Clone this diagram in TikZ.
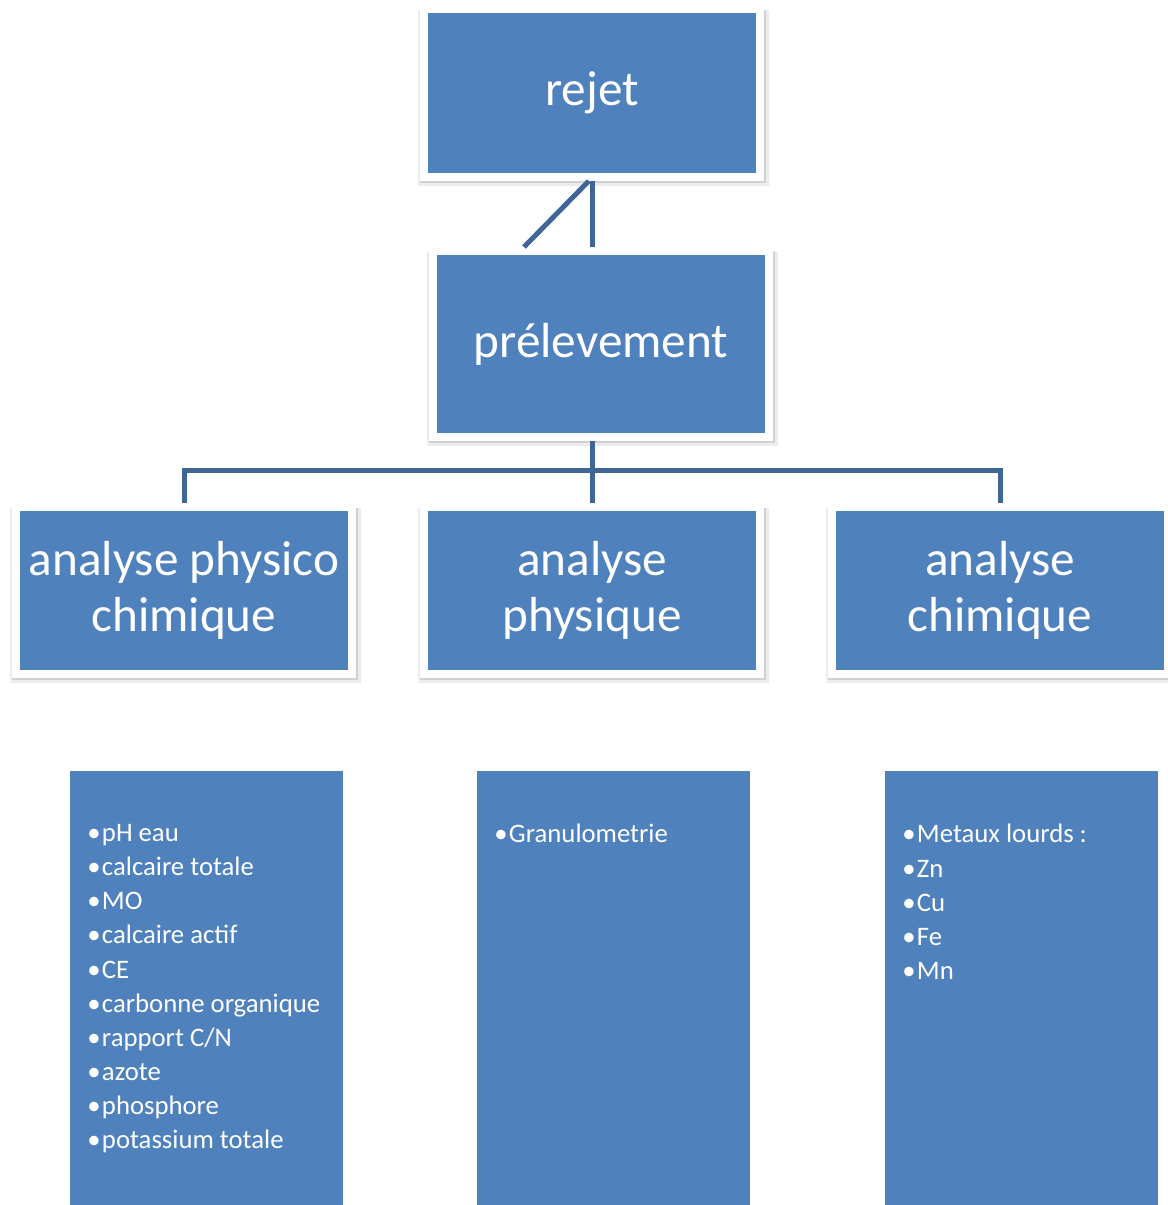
\documentclass[tikz,border=0pt]{standalone}
\usepackage{fontspec}
\setmainfont{Carlito}
\usetikzlibrary{shadows}
\definecolor{bleu}{HTML}{4F81BD}
\definecolor{trait}{HTML}{3F6696}
\newcommand{\puce}{•\hspace{1pt}}
\tikzset{bloc/.style={draw=white, line width=0.2cm, fill=bleu, text=white, align=center,
    minimum width=8.4cm, inner sep=0pt, font=\fontsize{35}{39.5}\selectfont,
    drop shadow={shadow xshift=0.03cm, shadow yshift=-0.12cm, shadow scale=1.045,
      opacity=0.15, fill=black!50},
    drop shadow={shadow xshift=0.02cm, shadow yshift=-0.08cm, shadow scale=1.03,
      opacity=0.25, fill=black!50}}}
\tikzset{fond/.style={fill=bleu, minimum width=6.825cm, minimum height=11cm, inner sep=0pt, anchor=north west}}
\tikzset{liste/.style={text=white, align=left, anchor=north west, inner sep=0pt,
    font=\fontsize{19}{24.3}\selectfont}}
\tikzset{lien/.style={draw=trait, line width=0.125cm}}

\begin{document}
\begin{tikzpicture}[x=0.025cm, y=-0.025cm]
    \useasboundingbox (0, 0) rectangle (1168, 1205);
    \clip (0, 0) rectangle (1168, 1205);

    \node [bloc, minimum height=4.2cm] (rejet) at (592, 93) {rejet};
    \node [bloc, minimum height=4.65cm] (prelev) at (601, 344) {prélevement};

    \node [bloc, minimum height=4.175cm] (physchim) at (184, 590.5) {analyse physico\\chimique};
    \node [bloc, minimum height=4.175cm] (phys) at (592, 590.5) {analyse\\physique};
    \node [bloc, minimum height=4.175cm] (chim) at (1000, 590.5) {analyse\\chimique};

    % liens
    \coordinate (diag) at (524, 247);
    \coordinate (bus) at (592, 470);
    \draw [lien] (rejet.south) -- (rejet.south |- prelev.north);
    \draw [lien] ([xshift=-0.08cm]rejet.south) -- (diag);
    \draw [lien] (prelev.south -| phys.north) -- (phys.north);
    \draw [lien] (physchim.north) |- (bus) -| (chim.north);

    % listes
    \node [fond] (fphyschim) at (70, 771) {};
    \node [fond] (fphys) at (477, 771) {};
    \node [fond] (fchim) at (885, 771) {};

    \node [liste] (lphyschim) at (87, 824) {\puce pH eau\\\puce calcaire totale\\\puce MO\\\puce calcaire actif\\\puce CE\\\puce carbonne organique\\\puce rapport C/N\\\puce azote\\\puce phosphore\\\puce potassium totale};
    \node [liste] (lphys) at (494, 824) {\puce Granulometrie};
    \node [liste] (lchim) at (902, 824) {\puce Metaux lourds :\\\puce Zn\\\puce Cu\\\puce Fe\\\puce Mn};
\end{tikzpicture}
\end{document}
